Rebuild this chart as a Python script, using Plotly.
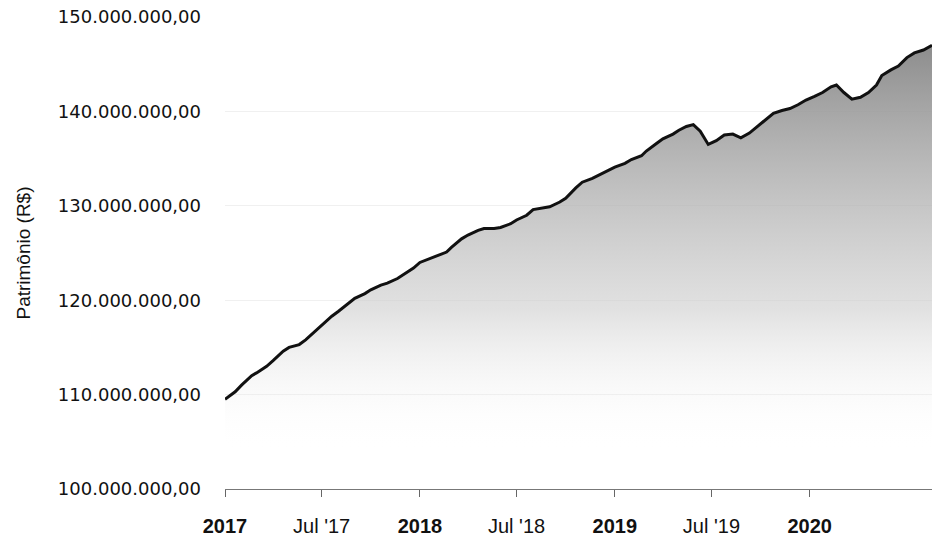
import plotly.graph_objects as go

dates = [
    "2017-01-01", "2017-01-20", "2017-02-01", "2017-02-20", "2017-03-01", "2017-03-20",
    "2017-04-01", "2017-04-20", "2017-05-01", "2017-05-20", "2017-06-01", "2017-06-20",
    "2017-07-01", "2017-07-20", "2017-08-01", "2017-08-20", "2017-09-01", "2017-09-20",
    "2017-10-01", "2017-10-20", "2017-11-01", "2017-11-20", "2017-12-01", "2017-12-20",
    "2018-01-01", "2018-01-20", "2018-02-01", "2018-02-20", "2018-03-01", "2018-03-20",
    "2018-04-01", "2018-04-20", "2018-05-01", "2018-05-20", "2018-06-01", "2018-06-20",
    "2018-07-01", "2018-07-20", "2018-08-01", "2018-08-20", "2018-09-01", "2018-09-20",
    "2018-10-01", "2018-10-20", "2018-11-01", "2018-11-20", "2018-12-01", "2018-12-20",
    "2019-01-01", "2019-01-20", "2019-02-01", "2019-02-20", "2019-03-01", "2019-03-20",
    "2019-04-01", "2019-04-20", "2019-05-01", "2019-05-15", "2019-05-28", "2019-06-10",
    "2019-06-25", "2019-07-10", "2019-07-25", "2019-08-10", "2019-08-25", "2019-09-10",
    "2019-09-25", "2019-10-10", "2019-10-25", "2019-11-10", "2019-11-25", "2019-12-10",
    "2019-12-25", "2020-01-10", "2020-01-25", "2020-02-10", "2020-02-20", "2020-03-05",
    "2020-03-20", "2020-04-05", "2020-04-20", "2020-05-05", "2020-05-15", "2020-06-01",
    "2020-06-15", "2020-07-01", "2020-07-15", "2020-08-01", "2020-08-17",
]

patrimonio_mi = [
    109.5, 110.3, 111.0, 112.0, 112.3, 113.0,
    113.6, 114.6, 115.0, 115.3, 115.8, 116.8,
    117.3, 118.3, 118.8, 119.6, 120.2, 120.7,
    121.1, 121.6, 121.8, 122.3, 122.7, 123.4,
    124.0, 124.4, 124.7, 125.1, 125.6, 126.5,
    126.9, 127.4, 127.6, 127.6, 127.7, 128.1,
    128.5, 129.0, 129.6, 129.8, 129.9, 130.4,
    130.8, 131.9, 132.5, 132.9, 133.2, 133.8,
    134.1, 134.5, 134.9, 135.3, 135.8, 136.6,
    137.1, 137.6, 138.0, 138.4, 138.6, 137.9,
    136.5, 136.9, 137.5, 137.6, 137.2, 137.7,
    138.4, 139.1, 139.8, 140.1, 140.3, 140.7,
    141.2, 141.6, 142.0, 142.6, 142.8, 142.0,
    141.3, 141.5, 142.0, 142.8, 143.8, 144.4,
    144.8, 145.7, 146.2, 146.5, 147.0,
]
valores = [v * 1e6 for v in patrimonio_mi]

tick_dates = ["2017-01-01", "2017-07-01", "2018-01-01", "2018-07-01",
              "2019-01-01", "2019-07-01", "2020-01-01"]
tick_labels = ["<b>2017</b>", "Jul '17", "<b>2018</b>", "Jul '18",
               "<b>2019</b>", "Jul '19", "<b>2020</b>"]

y_ticks = [100e6, 110e6, 120e6, 130e6, 140e6, 150e6]

fig = go.Figure()
fig.add_trace(go.Scatter(
    x=dates, y=valores, mode="lines",
    line=dict(color="#111111", width=3),
    fill="tozeroy",
    fillgradient=dict(
        type="vertical",
        colorscale=[[0, "rgba(255,255,255,0)"], [0.35, "rgba(205,205,205,0.6)"],
                    [1, "rgba(135,135,135,0.95)"]],
        start=104e6, stop=147e6,
    ),
    showlegend=False,
))

fig.update_layout(
    width=932, height=543,
    margin=dict(l=225, r=0, t=17, b=54),
    paper_bgcolor="white", plot_bgcolor="white",
    separators=",.",
    font=dict(family="DejaVu Sans", color="#111111"),
    xaxis=dict(
        type="date",
        range=["2017-01-01", "2020-08-17"],
        tickvals=tick_dates, ticktext=tick_labels,
        tickfont=dict(family="Liberation Sans, Arial", size=20, color="#111111"),
        ticks="outside", ticklen=7, tickcolor="#666666", tickwidth=1,
        showline=True, linecolor="#777777", linewidth=1,
        showgrid=False, zeroline=False,
        ticklabelstandoff=12,
        automargin=False,
    ),
    yaxis=dict(
        range=[100e6, 150e6],
        tickvals=y_ticks,
        tickformat=",.2f",
        tickfont=dict(family="DejaVu Sans", size=18, color="#111111"),
        ticks="", ticklabelstandoff=23,
        ticklabeloverflow="allow",
        showgrid=True, gridcolor="#f0f0f0", gridwidth=1,
        zeroline=False, showline=False,
        automargin=False,
        title=dict(text="Patrimônio (R$)",
                   font=dict(family="Liberation Sans, Arial", size=19, color="#111111"),
                   standoff=22),
    ),
)

# remove the default page margin so the 932x543 figure fills the window exactly
fig.write_html(
    "out.html",
    config={"displayModeBar": False},
    post_script="document.body.style.margin='0px';"
                "document.documentElement.style.overflow='hidden';",
)
